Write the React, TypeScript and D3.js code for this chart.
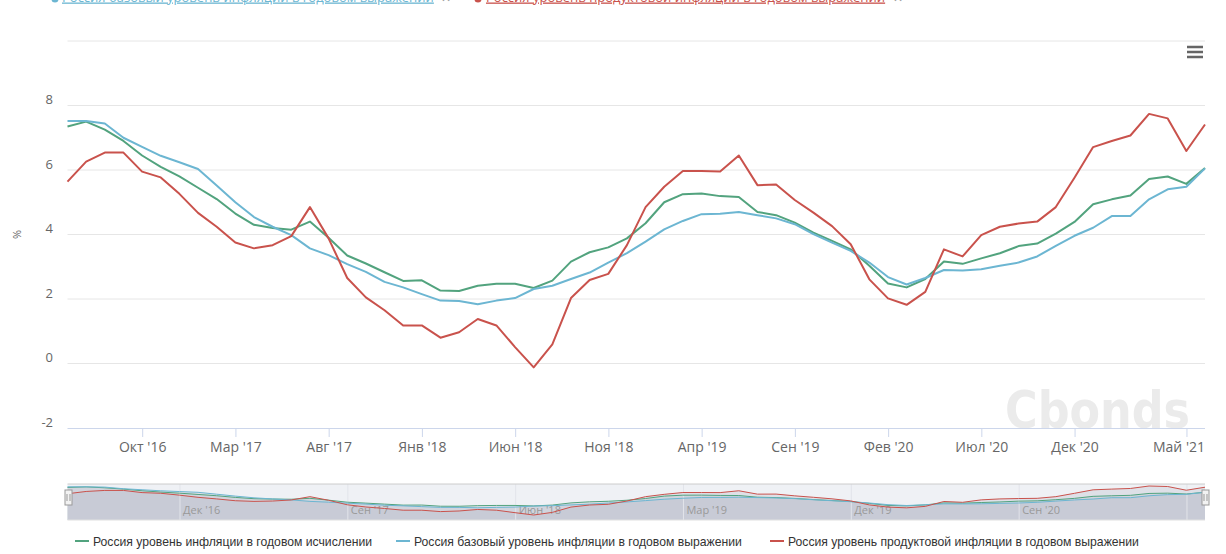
import React from 'react'
import * as d3 from 'd3'

const W = 1226
const H = 554
const PLOT = { left: 67.5, right: 1205, top: 41, bottom: 428 }
const NAV = { top: 484, bottom: 520 }
const FONT = "'Open Sans', sans-serif"

// month-end observation dates (ordinal axis: one slot per point)
const dates = [
  '2016-05-31', '2016-06-30', '2016-07-31', '2016-08-31', '2016-09-30', '2016-10-31', '2016-11-30', '2016-12-31',
  '2017-01-31', '2017-02-28', '2017-03-31', '2017-04-30', '2017-05-31', '2017-06-30', '2017-07-31', '2017-08-31',
  '2017-09-30', '2017-10-31', '2017-11-30', '2017-12-31',
  '2018-01-31', '2018-02-28', '2018-03-31', '2018-04-30', '2018-05-31', '2018-06-30', '2018-07-31', '2018-08-31',
  '2018-09-30', '2018-10-31', '2018-11-30', '2018-12-31',
  '2019-01-31', '2019-02-28', '2019-03-31', '2019-04-30', '2019-05-31', '2019-06-30', '2019-07-31', '2019-08-31',
  '2019-09-30', '2019-10-31', '2019-11-30', '2019-12-31',
  '2020-01-31', '2020-02-29', '2020-03-31', '2020-04-30', '2020-05-31', '2020-06-30', '2020-07-31', '2020-08-31',
  '2020-09-30', '2020-10-31', '2020-11-30', '2020-12-31',
  '2021-01-15', '2021-01-31', '2021-02-28', '2021-03-31', '2021-04-30', '2021-05-31',
]

const cpiTotal = [
  7.35, 7.5, 7.25, 6.9, 6.45, 6.1, 5.8, 5.45, 5.1, 4.65, 4.3, 4.2, 4.15, 4.4, 3.9, 3.35,
  3.1, 2.83, 2.56, 2.58, 2.26, 2.25, 2.41, 2.47, 2.47, 2.34, 2.57, 3.16, 3.45, 3.6, 3.88, 4.35,
  5.0, 5.25, 5.27, 5.19, 5.16, 4.7, 4.6, 4.37, 4.06, 3.8, 3.54, 3.03, 2.48, 2.36, 2.62,
  3.16, 3.09, 3.26, 3.42, 3.64, 3.72, 4.03, 4.39, 4.94, 5.09, 5.21, 5.72, 5.8, 5.57, 6.06,
]
const cpiCore = [
  7.52, 7.52, 7.44, 7.0, 6.72, 6.44, 6.24, 6.03, 5.52, 5.0, 4.54, 4.24, 3.98, 3.57, 3.36, 3.08,
  2.84, 2.53, 2.36, 2.15, 1.95, 1.94, 1.84, 1.95, 2.03, 2.31, 2.41, 2.62, 2.82, 3.13, 3.42, 3.78,
  4.16, 4.42, 4.63, 4.64, 4.7, 4.6, 4.5, 4.32, 4.01, 3.75, 3.49, 3.13, 2.68, 2.45, 2.65,
  2.9, 2.88, 2.92, 3.03, 3.13, 3.32, 3.65, 3.96, 4.21, 4.57, 4.57, 5.09, 5.4, 5.48, 6.05,
]
const cpiFood = [
  5.64, 6.26, 6.54, 6.54, 5.95, 5.77, 5.26, 4.67, 4.24, 3.75, 3.57, 3.67, 3.95, 4.85, 3.88, 2.65,
  2.05, 1.65, 1.18, 1.18, 0.8, 0.97, 1.38, 1.18, 0.51, -0.12, 0.59, 2.03, 2.59, 2.78, 3.67, 4.85,
  5.48, 5.97, 5.97, 5.95, 6.45, 5.53, 5.55, 5.07, 4.68, 4.26, 3.7, 2.61, 2.02, 1.82, 2.22,
  3.54, 3.32, 3.98, 4.24, 4.34, 4.4, 4.85, 5.76, 6.71, 6.9, 7.07, 7.74, 7.6, 6.59, 7.41,
]

const seriesNames = [
  'Россия уровень инфляции в годовом исчислении',
  'Россия базовый уровень инфляции в годовом выражении',
  'Россия уровень продуктовой инфляции в годовом выражении',
]
const seriesColors = ['#52a37e', '#6cb6d2', '#c9524c']

const yTicks = [-2, 0, 2, 4, 6, 8, 10]
const xTickDates = ['2016-10-01', '2017-03-01', '2017-08-01', '2018-01-01', '2018-06-01', '2018-11-01',
  '2019-04-01', '2019-09-01', '2020-02-01', '2020-07-01', '2020-12-01', '2021-05-01']
const xTickLabels = ["Окт '16", "Мар '17", "Авг '17", "Янв '18", "Июн '18", "Ноя '18",
  "Апр '19", "Сен '19", "Фев '20", "Июл '20", "Дек '20", "Май '21"]
const navTickDates = ['2016-12-01', '2017-09-01', '2018-06-01', '2019-03-01', '2019-12-01', '2020-09-01', '2021-05-01']
const navTickLabels = ["Дек '16", "Сен '17", "Июн '18", "Мар '19", "Дек '19", "Сен '20", '']

const parse = d3.utcParse('%Y-%m-%d')
const times = dates.map((d) => +parse(d)!)

// position of a date on the ordinal axis (fractional point index)
function ordinalIndex(s: string) {
  const t = +parse(s)!
  let i = d3.bisectRight(times, t) - 1
  i = Math.max(0, Math.min(times.length - 2, i))
  return i + (t - times[i]) / (times[i + 1] - times[i])
}

export default function App() {
  const all = [cpiTotal, cpiCore, cpiFood]
  const x = d3.scaleLinear().domain([0, dates.length - 1]).range([PLOT.left, PLOT.right])
  const y = d3.scaleLinear().domain([-2, 10]).range([PLOT.bottom, PLOT.top])
  const ext = d3.extent(all.flat()) as [number, number]
  const yNav = d3.scaleLinear().domain(ext).range([NAV.bottom - 5, NAV.top + 2])

  const line = d3.line<number>().x((_, i) => x(i)).y((d) => y(d))
  const navLine = d3.line<number>().x((_, i) => x(i)).y((d) => yNav(d))
  const navArea = d3.area<number>().x((_, i) => x(i)).y0(NAV.bottom).y1((d) => yNav(d))

  const legendX = [75, 396, 770]

  return (
    <svg width={W} height={H} style={{ position: 'absolute', left: 0, top: 0, fontFamily: FONT }}>
      <rect width={W} height={H} fill="#fff" />

      {/* top legend (scrolled, mostly cut off) */}
      <g fontSize={13}>
        <circle cx={55} cy={-1} r={3.5} fill={seriesColors[1]} />
        <text x={62} y={1.5} fill={seriesColors[1]} textDecoration="underline">{seriesNames[1]}</text>
        <text x={441} y={2} fill="#999" fontSize={12}>✕</text>
        <circle cx={478} cy={-1} r={3.5} fill={seriesColors[2]} />
        <text x={486} y={1.5} fill={seriesColors[2]} textDecoration="underline">{seriesNames[2]}</text>
        <text x={893} y={2} fill="#999" fontSize={12}>✕</text>
      </g>

      {/* watermark */}
      <text x={1005} y={428} fontFamily="'DejaVu Sans', sans-serif" fontWeight="bold" fontSize={52}
        fill="#ebebeb" textLength={185} lengthAdjust="spacingAndGlyphs">Cbonds</text>

      {/* grid + y labels */}
      {yTicks.map((t) => (
        <g key={t}>
          {t > -2 && <line x1={PLOT.left} x2={PLOT.right} y1={y(t)} y2={y(t)} stroke="#e6e6e6" />}
          {t < 10 && <text x={53} y={y(t) - 1.5} textAnchor="end" fontSize={13} fill="#666">{t}</text>}
        </g>
      ))}
      <text transform={`translate(21,${y(4)}) rotate(-90)`} textAnchor="middle" fontSize={11} fill="#666">%</text>

      {/* x axis */}
      <line x1={PLOT.left} x2={PLOT.right} y1={PLOT.bottom + 0.5} y2={PLOT.bottom + 0.5} stroke="#ccd6eb" />
      {xTickDates.map((d, k) => {
        const px = x(ordinalIndex(d))
        const half = 27
        const over = px + half > PLOT.right
        return (
          <g key={d}>
            <line x1={px} x2={px} y1={PLOT.bottom} y2={PLOT.bottom + 9} stroke="#ccd6eb" />
            <text x={over ? PLOT.right : px} y={452} textAnchor={over ? 'end' : 'middle'} fontSize={14} fill="#666">
              {xTickLabels[k]}
            </text>
          </g>
        )
      })}

      {/* series */}
      {all.map((s, k) => (
        <path key={k} d={line(s)!} fill="none" stroke={seriesColors[k]} strokeWidth={2} strokeLinejoin="round" />
      ))}

      {/* export menu */}
      {[47, 52, 57].map((yy) => (
        <rect key={yy} x={1187} y={yy - 1.25} width={16} height={2.5} fill="#666" />
      ))}

      {/* navigator */}
      <rect x={PLOT.left} y={NAV.top} width={PLOT.right - PLOT.left} height={NAV.bottom - NAV.top} fill="#eff1f5" />
      {all.map((s, k) => (
        <path key={k} d={navArea(s)!} fill="#aeb3c0" fillOpacity={0.26} />
      ))}
      {navTickDates.map((d, k) => {
        const px = x(ordinalIndex(d))
        return (
          <g key={d}>
            <line x1={px} x2={px} y1={NAV.top} y2={NAV.bottom} stroke="#e2e4ea" />
            <text x={px + 3} y={514} fontSize={11} fill="#999">{navTickLabels[k]}</text>
          </g>
        )
      })}
      {all.map((s, k) => (
        <path key={k} d={navLine(s)!} fill="none" stroke={seriesColors[k]} strokeWidth={1} />
      ))}
      <line x1={PLOT.left} x2={PLOT.right} y1={NAV.top} y2={NAV.top} stroke="#cccccc" />
      <line x1={PLOT.left} x2={PLOT.right} y1={NAV.bottom} y2={NAV.bottom} stroke="#e0e0e0" />
      {[PLOT.left, PLOT.right].map((hx) => (
        <g key={hx} transform={`translate(${Math.round(hx) + 0.5},${NAV.top + 6})`}>
          <rect x={-3.5} y={0} width={7} height={15} fill="#f2f2f2" stroke="#999" />
          <line x1={-1.5} x2={-1.5} y1={4} y2={11} stroke="#999" />
          <line x1={1.5} x2={1.5} y1={4} y2={11} stroke="#999" />
        </g>
      ))}

      {/* bottom legend */}
      {seriesNames.map((n, k) => (
        <g key={n} transform={`translate(${legendX[k]},541)`}>
          <rect x={0} y={-1} width={14} height={2} fill={seriesColors[k]} />
          <text x={18} y={4.5} fontFamily="'Liberation Sans Narrow', sans-serif" fontSize={12.2} fill="#333">{n}</text>
        </g>
      ))}
    </svg>
  )
}
